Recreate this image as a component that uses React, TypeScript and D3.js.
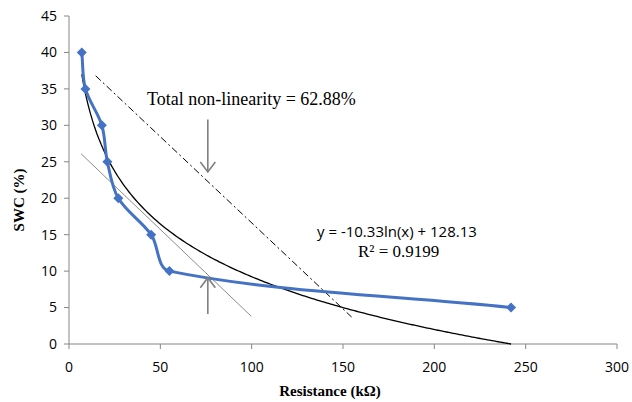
import React from "react";
import * as d3 from "d3";

// measured points (resistance kΩ, SWC %)
const resistance = [7, 9, 18, 21, 27, 45, 55, 242];
const swc = [40, 35, 30, 25, 20, 15, 10, 5];

const xTicks = [0, 50, 100, 150, 200, 250, 300];
const yTicks = [0, 5, 10, 15, 20, 25, 30, 35, 40, 45];

// annotation lines, in data units: [x1, y1, x2, y2]
const tangentLine = [6.6, 26.1, 99.8, 3.8];
const dashedLine = [14.6, 36.8, 154.7, 3.7];
// arrows: [x, yFrom, yTo]
const downArrow = [76, 30.8, 23.6];
const upArrow = [76, 4.1, 9.1];

const equationLabel = "y = -10.33ln(x) + 128.13";
const r2Label = "R² = 0.9199";
const nonLinLabel = "Total non-linearity = 62.88%";

const W = 632;
const H = 402;
const margin = { top: 16, right: 15, bottom: 58, left: 69 };

// smoothed line like a spreadsheet "smoothed scatter": tangents scaled by segment lengths
function smoothPath(p: [number, number][]) {
  const path = d3.path();
  const n = p.length;
  const dist = (a: [number, number], b: [number, number]) => Math.hypot(b[0] - a[0], b[1] - a[1]);
  path.moveTo(p[0][0], p[0][1]);
  for (let i = 0; i < n - 1; i++) {
    const p0 = p[Math.max(i - 1, 0)];
    const p1 = p[i];
    const p2 = p[i + 1];
    const p3 = p[Math.min(i + 2, n - 1)];
    const d1 = dist(p0, p1);
    const d2 = dist(p1, p2);
    const d3 = dist(p2, p3);
    const f1 = d2 / (d1 + d2) / 3;
    const f2 = d2 / (d2 + d3) / 3;
    const c1x = p1[0] + (p2[0] - p0[0]) * f1;
    const c1y = p1[1] + (p2[1] - p0[1]) * f1;
    const c2x = p2[0] - (p3[0] - p1[0]) * f2;
    const c2y = p2[1] - (p3[1] - p1[1]) * f2;
    path.bezierCurveTo(c1x, c1y, c2x, c2y, p2[0], p2[1]);
  }
  return path.toString();
}

export default function App() {
  const x = d3.scaleLinear().domain([0, 300]).range([margin.left, W - margin.right]);
  const y = d3.scaleLinear().domain([0, 45]).range([H - margin.bottom, margin.top]);

  const pts: [number, number][] = resistance.map((r, i) => [r, swc[i]]);
  const screenPts: [number, number][] = pts.map((d) => [x(d[0]), y(d[1])]);

  // logarithmic least squares fit
  const lx = resistance.map((r) => Math.log(r));
  const mx = d3.mean(lx) as number;
  const my = d3.mean(swc) as number;
  const sxy = d3.sum(lx, (v, i) => (v - mx) * (swc[i] - my));
  const sxx = d3.sum(lx, (v) => (v - mx) * (v - mx));
  const slope = sxy / sxx;
  const icpt = my - slope * mx;
  const xMin = d3.min(resistance) as number;
  const xMax = d3.max(resistance) as number;
  const fitPts: [number, number][] = d3
    .range(0, 201)
    .map((k) => xMin + ((xMax - xMin) * k) / 200)
    .map((v) => [v, slope * Math.log(v) + icpt]);

  const line = d3
    .line<[number, number]>()
    .x((d) => x(d[0]))
    .y((d) => y(d[1]));

  const diamond = d3.symbol().type(d3.symbolDiamond2).size(64)() as string;
  const axisColor = "#868686";
  const arrowColor = "#7f7f7f";

  const arrow = (a: number[], key: string) => {
    const ax = x(a[0]);
    const y1 = y(a[1]);
    const y2 = y(a[2]);
    const dir = y2 > y1 ? -1 : 1;
    return (
      <g key={key} stroke={arrowColor} strokeWidth={1.6} fill="none">
        <line x1={ax} y1={y1} x2={ax} y2={y2} />
        <polyline points={`${ax - 7.5},${y2 + dir * 10} ${ax},${y2} ${ax + 7.5},${y2 + dir * 10}`} />
      </g>
    );
  };

  return (
    <svg width={W} height={H} style={{ position: "absolute", left: 0, top: 0, background: "#fff" }}>
      {/* axes */}
      <g stroke={axisColor} strokeWidth={1}>
        <line x1={x(0)} x2={x(0)} y1={y(45)} y2={y(0)} />
        <line x1={x(0)} x2={x(300)} y1={y(0)} y2={y(0)} />
        {yTicks.map((t) => (
          <line key={"yt" + t} x1={x(0) - 5} x2={x(0)} y1={y(t)} y2={y(t)} />
        ))}
        {xTicks.map((t) => (
          <line key={"xt" + t} x1={x(t)} x2={x(t)} y1={y(0)} y2={y(0) + 5} />
        ))}
      </g>
      <g fontFamily="'Open Sans', sans-serif" fontSize={14} fill="#000">
        {yTicks.map((t) => (
          <text key={"yl" + t} x={x(0) - 12} y={y(t)} dy="0.35em" textAnchor="end">
            {t}
          </text>
        ))}
        {xTicks.map((t) => (
          <text key={"xl" + t} x={x(t)} y={y(0) + 28} textAnchor="middle">
            {t}
          </text>
        ))}
      </g>
      <text
        x={330}
        y={396}
        textAnchor="middle"
        fontFamily="'Liberation Serif', serif"
        fontWeight="bold"
        fontSize={15}
      >
        Resistance (kΩ)
      </text>
      <text
        transform="translate(24,200) rotate(-90)"
        textAnchor="middle"
        fontFamily="'Liberation Serif', serif"
        fontWeight="bold"
        fontSize={15}
      >
        SWC (%)
      </text>

      {/* annotation lines */}
      <line
        x1={x(tangentLine[0])}
        y1={y(tangentLine[1])}
        x2={x(tangentLine[2])}
        y2={y(tangentLine[3])}
        stroke="#8c8c8c"
        strokeWidth={1}
      />
      <line
        x1={x(dashedLine[0])}
        y1={y(dashedLine[1])}
        x2={x(dashedLine[2])}
        y2={y(dashedLine[3])}
        stroke="#000"
        strokeWidth={1}
        strokeDasharray="7,3,2,3"
      />

      {/* log trendline */}
      <path d={line(fitPts) as string} fill="none" stroke="#000" strokeWidth={1.3} />

      {/* data series */}
      <path d={smoothPath(screenPts)} fill="none" stroke="#4472C4" strokeWidth={3} />
      {screenPts.map((p, i) => (
        <path key={"m" + i} d={diamond} transform={`translate(${p[0]},${p[1]})`} fill="#4472C4" />
      ))}

      {arrow(downArrow, "down")}
      {arrow(upArrow, "up")}

      <text x={147} y={105} fontFamily="'Liberation Serif', serif" fontSize={18}>
        {nonLinLabel}
      </text>
      <text x={317} y={237} fontFamily="'Open Sans', sans-serif" fontSize={15}>
        {equationLabel}
      </text>
      <text x={358} y={257} fontFamily="'Liberation Serif', serif" fontSize={17}>
        {r2Label}
      </text>
    </svg>
  );
}
